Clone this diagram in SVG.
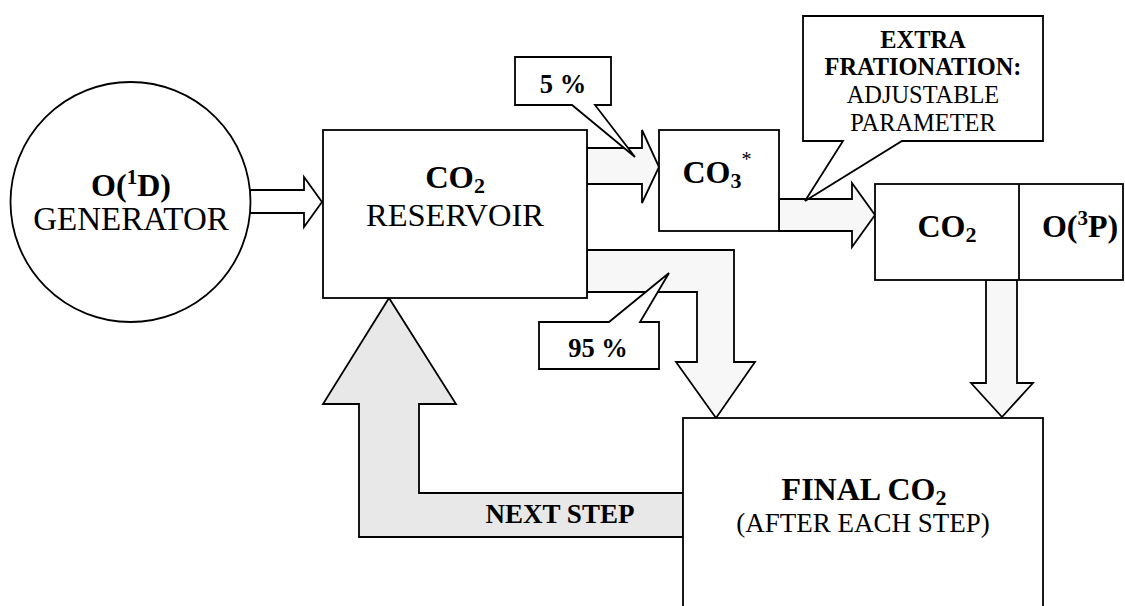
<svg xmlns="http://www.w3.org/2000/svg" width="1125" height="606" viewBox="0 0 1125 606">
<style>
.box{fill:#fff;stroke:#000;stroke-width:1.8}
.arr{fill:#f7f7f7;stroke:#000;stroke-width:1.8;stroke-linejoin:miter}
.hollow{fill:#fff;stroke:#000;stroke-width:1.8}
.back{fill:#e8e8e8;stroke:#000;stroke-width:1.8}
text{font-family:"Liberation Serif","Times New Roman",serif;fill:#000;text-anchor:middle}
.b{font-weight:bold}
</style>
<rect width="1125" height="606" fill="#fff"/>
<g id="connectors">
<path id="arrow-gen-res" class="hollow" d="M250,190 L304,190 L304,177 L322,202 L304,227 L304,213 L250,213 Z"/>
<path id="arrow-5" class="arr" d="M587,148 L642,148 L642,130 L659,167 L642,203 L642,184 L587,184 Z"/>
<path id="arrow-95" class="arr" d="M587,250 L734,250 L734,362 L755,362 L716,418 L676,362 L697,362 L697,292 L587,292 Z"/>
<path id="arrow-co3" class="arr" d="M779,199 L852,199 L852,183 L875,215 L852,247 L852,231 L779,231 Z"/>
<path id="arrow-down" class="arr" d="M986,280 L1017,280 L1017,383 L1033,383 L1002,417 L971,383 L986,383 Z"/>
<path id="arrow-next" class="back" d="M683,493 L419,493 L419,404 L456,404 L389,298 L323,404 L359,404 L359,537 L683,537 Z"/>
<text class="b" x="560" y="523" font-size="27">NEXT STEP</text>
</g>
<g id="generator">
<circle cx="130.5" cy="202" r="120" class="box"/>
<text class="b" x="131" y="196" font-size="32">O(<tspan font-size="21" dy="-12">1</tspan><tspan dy="12">D)</tspan></text>
<text x="131" y="230" font-size="33">GENERATOR</text>
</g>
<g id="reservoir">
<rect x="323" y="130" width="264" height="168" class="box"/>
<text class="b" x="455" y="188" font-size="32.5">CO<tspan font-size="22" dy="5">2</tspan></text>
<text x="455" y="226" font-size="32.5">RESERVOIR</text>
</g>
<g id="co3">
<rect x="659" y="130" width="120" height="101" class="box"/>
<text class="b" x="717" y="183" font-size="32">CO<tspan font-size="22" dy="5">3</tspan><tspan font-size="20" font-weight="normal" dy="-22">*</tspan></text>
</g>
<g id="products">
<rect x="875" y="184" width="248" height="96" class="box"/>
<line x1="1019" y1="184" x2="1019" y2="280" stroke="#000" stroke-width="1.8"/>
<text class="b" x="947" y="237" font-size="32">CO<tspan font-size="22" dy="5">2</tspan></text>
<text class="b" x="1080" y="237" font-size="32">O(<tspan font-size="21" dy="-12">3</tspan><tspan dy="12">P)</tspan></text>
</g>
<g id="final">
<rect x="683" y="418" width="360" height="200" class="box"/>
<text class="b" x="864" y="500" font-size="32">FINAL CO<tspan font-size="22" dy="5">2</tspan></text>
<text x="863" y="532" font-size="27">(AFTER EACH STEP)</text>
</g>
<g id="callout-5">
<path class="box" d="M515,57 L611,57 L611,105 L595,105 L635,157 L572,105 L515,105 Z"/>
<text class="b" x="563" y="93" font-size="26.5">5 %</text>
</g>
<g id="callout-95">
<path class="box" d="M539,322 L609,322 L669,273 L640,322 L659,322 L659,369 L539,369 Z"/>
<text class="b" x="598" y="357" font-size="26.5">95 %</text>
</g>
<g id="callout-extra">
<path class="box" d="M803,16 L1043,16 L1043,141 L902,141 L805,201 L843,141 L803,141 Z"/>
<text class="b" x="923" y="48" font-size="24.4">EXTRA</text>
<text class="b" x="923" y="75" font-size="24.4">FRATIONATION:</text>
<text x="923" y="103" font-size="24.4">ADJUSTABLE</text>
<text x="923" y="131" font-size="24.4">PARAMETER</text>
</g>
</svg>
